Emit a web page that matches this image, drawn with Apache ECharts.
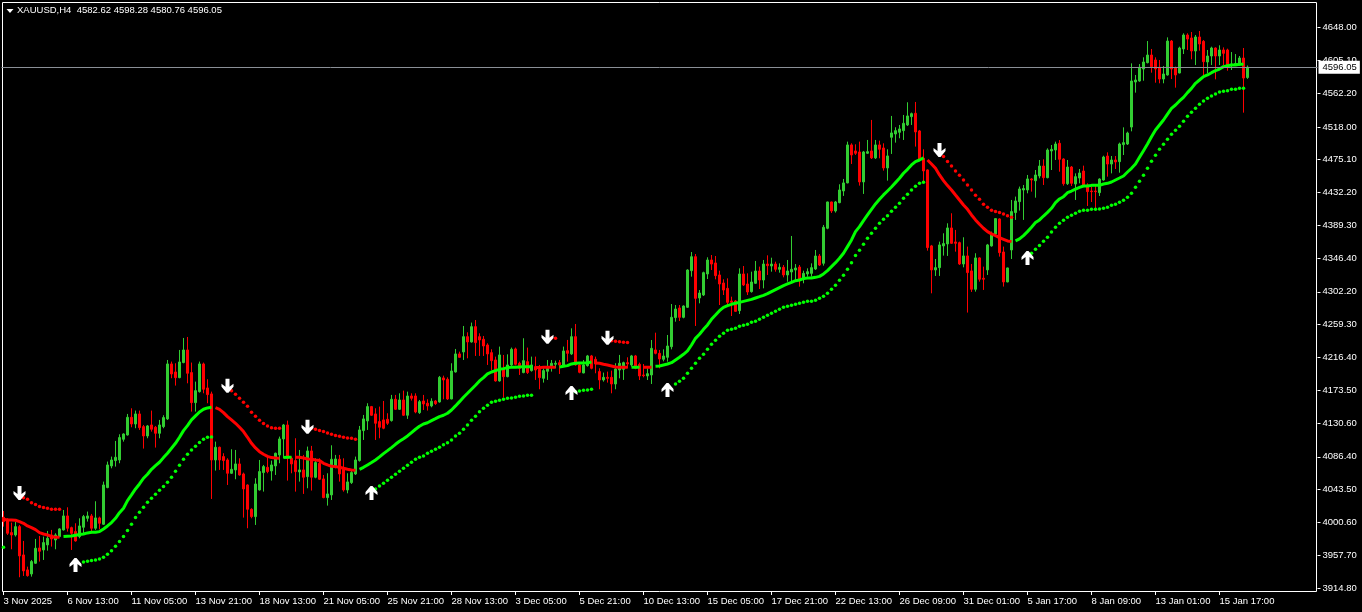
<!DOCTYPE html>
<html>
<head>
<meta charset="utf-8">
<style>html,body{margin:0;padding:0;background:#000}#c{width:1362px;height:612px}</style>
<script src="https://cdn.jsdelivr.net/npm/echarts@6/dist/echarts.min.js"></script>
</head>
<body>
<div id="c"></div>
<script>
const headerText = 'XAUUSD,H4  4582.62 4598.28 4580.76 4596.05';
const lastPrice = 4596.05;
const tickLabels = ['3 Nov 2025','6 Nov 13:00','11 Nov 05:00','13 Nov 21:00','18 Nov 13:00','21 Nov 05:00','25 Nov 21:00','28 Nov 13:00','3 Dec 05:00','5 Dec 21:00','10 Dec 13:00','15 Dec 05:00','17 Dec 21:00','22 Dec 13:00','26 Dec 09:00','31 Dec 01:00','5 Jan 17:00','8 Jan 09:00','13 Jan 01:00','15 Jan 17:00'];
const priceTicks = [4648.00,4605.10,4562.20,4518.00,4475.10,4432.20,4389.30,4346.40,4302.20,4259.30,4216.40,4173.50,4130.60,4086.40,4043.50,4000.60,3957.70,3914.80];

// [open, close, low, high]
const candlesA = [
[4007.3,4001.7,3995.1,4015.6],[4004.7,3986.4,3984.2,4006],[3987.3,3984.2,3965.5,4000.4],[3984.2,3995.1,3982.1,4001.2],[3995.1,3956.8,3928.9,3997.3],
[3958.1,3937.2,3930.6,3976.4],[3938.5,3931,3929.7,3942.8],[3933.2,3949.4,3929.7,3951.5],[3947.2,3966.8,3946.3,3979],[3967.2,3962.9,3949.4,3982.9],
[3964.6,3974.2,3951.5,3982.1],[3971.2,3979.9,3963.7,3989.5],[3984.2,3979,3969,3990.8],[3977.7,3984.2,3965.5,3986.4],[3982.1,3992.1,3981.2,3993],
[3990.8,4009.1,3990,4016.9],[4009.1,3993,3988.6,4020.4],[3993.8,3986.4,3964.6,3995.1],[3988.6,3976.4,3975.5,3999.5],[3982.1,3996,3979.9,4006],
[3994.3,4008.2,3984.2,4010.4],[4006,4009.1,4001.7,4014.8],[4009.1,3993,3986.4,4011.7],[3993,4006.5,3990.8,4028.3],[4006.5,3999.5,3991.7,4008.2],
[3998.2,4049.6,3997.3,4054],[4046.2,4075.8,4045.3,4080.2],[4074.5,4082.3,4071.4,4086.7],[4081.5,4085.8,4073.6,4107.2],[4082.3,4111.6,4078,4115.9],
[4109.4,4116.3,4106.3,4117.2],[4115,4138.1,4114.2,4142.5],[4138.1,4129.4,4125.1,4149.9],[4129.4,4142.5,4123.8,4146.9],[4142.5,4124.6,4121.6,4146.9],
[4125.9,4113.7,4097.2,4128.1],[4113.7,4126.8,4110.7,4128.1],[4128.1,4122.5,4119.4,4146.9],[4125.1,4117.2,4098.5,4126.8],[4117.2,4128.1,4110.7,4134.7],
[4125.9,4137.7,4123.8,4140.8],[4136,4207.9,4134.7,4213.1],[4207.9,4194.8,4189.2,4211],[4197.4,4190,4179.6,4208.8],[4190,4210.5,4189.2,4226.2],
[4209.7,4226.2,4208.8,4241.9],[4226.2,4195.7,4182.6,4243.2],[4196.6,4157.3,4145.6,4209.7],[4157.3,4173,4145.6,4184.8],[4171.7,4207.9,4170.4,4211],
[4207.9,4174.8,4169.5,4209.7],[4176.5,4167.8,4156.5,4187.9],[4168.7,4082.3,4031.3,4171.7],[4082.3,4098.9,4068.4,4106.3],[4098.9,4082.3,4069.3,4099.8],
[4086.7,4081.5,4069.3,4091.1],[4082.3,4064.9,4049.6,4084.5],[4064.9,4070.1,4064,4096.3],[4069.3,4077.1,4057.1,4095.4],[4077.1,4062.7,4061.8,4084.5],
[4064,4044.4,4006.9,4065.8],[4049.6,4017.8,3993,4050.5],[4017.8,4008.2,4006,4019.1],[4008.2,4050.9,3997.3,4058.4],[4043.1,4067.1,4042.3,4082.3],
[4065.8,4073.6,4040.9,4075.8],[4072.7,4067.1,4064.9,4086.7],[4068,4075.8,4055.3,4081.5],[4074.5,4091.1,4062.7,4091.9],[4088.9,4109.8,4078,4112.9],
[4109.8,4128.1,4084.5,4129.4],[4128.1,4084.5,4055.3,4133.8],[4084.5,4077.1,4064.9,4086.7],[4081.5,4067.1,4040.9,4110.7],[4066.6,4069.3,4054,4095.4],
[4069.3,4059.7,4037.9,4088.9],[4060.5,4094.1,4045.3,4099.8],[4094.1,4059.7,4042.3,4100.7],[4059.7,4078.9,4058.4,4084.5],[4078,4057.1,4056.2,4084.5],
[4057.5,4033.1,4032.2,4062.7],[4033.1,4037.9,4022.6,4064.9],[4036.6,4083.2,4030,4101.5],[4074.5,4083.6,4071.4,4088.9],[4083.2,4064,4054,4088.9],
[4070.1,4043.1,4040.9,4084.5],[4043.1,4053.6,4038.7,4064.9],[4052.7,4065.8,4050.9,4068],[4064,4082.3,4062.7,4086.7],[4081.5,4121.6,4080.2,4126.8],
[4120.7,4136,4108.5,4141.2],[4133.4,4152.1,4121.6,4156.5],[4152.1,4140.8,4139.9,4153],[4142.5,4130.3,4108.5,4149.9],[4132.5,4125.1,4110.7,4152.1],
[4134.7,4123.8,4122.5,4159.5],[4135.5,4130.3,4128.1,4143.4],[4133.8,4161.7,4132.5,4167.4],[4161.7,4148.6,4147.7,4167.4],[4148.6,4160.8,4147.7,4169.5]
];
const candlesB = [
[4160.8,4140.8,4139.9,4173],[4140.8,4166,4136,4171.7],[4166,4163,4160,4169.5],[4166,4145.1,4143.4,4169.5],[4144.2,4158.6,4142.5,4160.8],
[4159.5,4155.6,4147.7,4167.4],[4156.5,4153,4146.9,4161.7],[4153,4159.1,4151.2,4163],[4159.5,4156,4154.3,4160.8],[4158.2,4190.4,4157.3,4192.2],
[4189.6,4187,4161.7,4192.6],[4187.8,4162.1,4160.8,4190.4],[4162.1,4198.7,4161.7,4208.8],[4197.4,4221,4196.6,4227.5],[4221,4216.6,4216,4224],
[4223.6,4243.6,4213.1,4257.6],[4243.6,4236.7,4215.3,4249.3],[4236.7,4256.7,4235.8,4262],[4256.7,4235.8,4218.4,4265.4],[4243.6,4239.3,4218.4,4248],
[4240.2,4231.4,4218.4,4244.5],[4232.7,4221,4206.6,4234.9],[4222.7,4212.2,4200,4227.1],[4213.1,4185.7,4184.8,4217.5],[4185.7,4219.7,4184.8,4230.6],
[4202.2,4191.3,4163.9,4219.7],[4191.3,4206.6,4190.4,4220.5],[4206.6,4227.1,4205.3,4229.3],[4227.5,4207.5,4206.1,4229.3],[4208.8,4202.2,4193.5,4210.9],
[4196.6,4212.2,4195.7,4241.5],[4210.9,4196.6,4194.8,4229.3],[4199.2,4206.6,4197.9,4217.5],[4204.4,4200,4187,4217.5],[4200.9,4190,4174.8,4206.6],
[4189.1,4199.2,4183.5,4202.2],[4198.3,4202.2,4187,4213.1],[4204.4,4208.8,4197.9,4213.1],[4207.5,4208.8,4202.2,4212.2],[4209.6,4206.6,4194.8,4213.1],
[4205.3,4224.9,4204.4,4230.6],[4225.3,4221.8,4210.9,4239.3],[4221,4243.6,4219.7,4254.5],[4243.6,4206.6,4205.7,4260.2],[4206.6,4197,4195.7,4208.8],
[4196.1,4206.6,4195.7,4213.1],[4205.7,4218.4,4204.4,4219.7],[4218.4,4202.2,4200.9,4219.7],[4214,4207.9,4195.7,4217.5],[4197.9,4187,4174.8,4202.2],
[4187,4190.4,4184.8,4196.6],[4190.4,4189.1,4183.5,4197.9],[4190.4,4181.7,4169.5,4199.2],[4181.7,4201.3,4174.8,4208.8],[4200,4208.8,4189.1,4219.7],
[4200.9,4209.6,4187,4210.9],[4209.6,4207.9,4202.2,4216.6],[4206.6,4218.4,4204.4,4219.7],[4218.4,4202.2,4201,4219.7],[4207.4,4192.2,4186.9,4209.6],
[4193.5,4192.6,4190.4,4207.8],[4192.2,4195.2,4186.9,4202.2],[4193.5,4228.3,4181.7,4239.2],[4226.2,4221.8,4220.5,4248.8],[4221.8,4214.4,4202.2,4226.2],
[4214,4218.3,4211.3,4227],[4216.6,4231.4,4210.9,4245.8],[4230.5,4268.9,4227,4286.3],[4268.5,4279.8,4263.2,4285],[4281.1,4268.9,4264.1,4285],
[4268.9,4283.7,4267.6,4284.6],[4282,4330.8,4281.1,4331.7],[4329.9,4348.2,4322.1,4354.3],[4348.2,4293.7,4257.6,4351.7],[4294.2,4300.7,4287.2,4304.6],
[4298.1,4327.3,4296.8,4328.6],[4325.6,4343.9,4319,4347.4],[4343.9,4338.6,4330.8,4350.4],[4340,4323.4,4318.6,4349.1],[4324.3,4312.5,4285,4329.9],
[4313.8,4304.6,4298.1,4318.6],[4306.8,4288.5,4285,4319.9],[4290.3,4288.5,4270.6,4295.9],[4290.3,4276.7,4276.3,4291.6],[4277.6,4325.6,4273.2,4333],
[4325.6,4311.2,4309.9,4336],[4312.5,4302,4298.1,4326.4],[4302.5,4315.1,4301.2,4328.6],[4313.4,4329.5,4312.5,4342.6],[4329.5,4317.7,4305.9,4335.2],
[4317.7,4338.6,4306.8,4343.9],[4338.6,4336.5,4324.3,4350],[4336,4338.6,4328.6,4346.9],[4338.6,4331.7,4328.6,4341.7],[4331.7,4334.3,4327.3,4339.5],
[4334.3,4324.3,4321.2,4337.3],[4324.3,4329.5,4315.5,4343.9],[4328.2,4331.7,4315.5,4375.3],[4330.8,4333.4,4317.7,4338.6],[4334.7,4318.6,4309,4337.3]
];
const candlesC = [
[4318.6,4326.4,4313.4,4329.9],[4325.6,4328.6,4322.1,4333],[4326.4,4333.9,4322.1,4339.5],[4332.1,4349.1,4330.8,4357],[4349.1,4337.3,4336,4351.7],
[4339.6,4386.7,4336.5,4389.7],[4385.4,4419.8,4384.1,4420.2],[4419.8,4408,4405.4,4420.2],[4408,4419.8,4405.9,4421.1],[4418.9,4435.5,4418.1,4442.9],
[4434.2,4444.7,4427.7,4449.9],[4444.7,4494.4,4444.2,4498.7],[4494.4,4481.3,4469.5,4496.5],[4486.5,4483.5,4481.3,4495.2],[4485.2,4446,4441.2,4498.7],
[4446,4485.2,4430.3,4486.5],[4483.5,4485.6,4482.6,4500.9],[4486.5,4477.4,4476,4527.1],[4477.4,4494.4,4476,4500.9],[4494.4,4488.7,4476.9,4500],
[4490.4,4464.3,4460.8,4496.5],[4464.3,4480,4447.7,4488.7],[4504.4,4510.1,4482.6,4532.3],[4508.7,4513.1,4497.4,4517.5],[4510.9,4515.3,4503.1,4520.5],
[4513.1,4522.7,4500.9,4533.6],[4520.5,4532.3,4519.2,4550.2],[4531.4,4535.3,4520.5,4536.7],[4535.8,4511.4,4492.2,4550.6],[4512.7,4474.7,4473.9,4514],
[4476.9,4460.4,4446.4,4488.7],[4461.7,4360.1,4356.1,4462.5],[4362.3,4330.9,4300.3,4363.6],[4330.9,4333.9,4323,4345.2],[4333.9,4363.6,4323,4367.9],
[4362.3,4365.3,4349.6,4378.8],[4364.9,4385.8,4349.2,4391.9],[4385.8,4365.7,4364.9,4405],[4367.5,4365.7,4354.8,4383.2],[4366.6,4338.7,4337.4,4367.9],
[4338.7,4349.2,4334.3,4373.6],[4349.2,4327.4,4275.1,4361.4],[4329.6,4305.6,4302.1,4338.7],[4305.6,4346.6,4302.5,4352.7],[4346.6,4318.7,4315.6,4347.4],
[4320,4318.7,4304.7,4335.2],[4330.9,4363.6,4324.3,4364.9],[4362.3,4378.8,4361.4,4381],[4377.9,4398,4376.6,4398.4],[4397.6,4353.5,4348.3,4398.4],
[4354.4,4315.2,4309.1,4361.4],[4315.2,4333.5,4314.7,4333.9],[4357,4407.2,4345.2,4422.4],[4405.9,4421.1,4396.3,4426.8],[4420.2,4436.8,4408.5,4439.9],
[4435.5,4437.3,4396.3,4442],[4435.5,4449.9,4431.1,4455.1],[4449.9,4448.6,4433.3,4450.8],[4447.6,4455.1,4425.4,4461.6],[4453.8,4466.8,4450.7,4474.7],
[4466.8,4451.6,4442,4475.6],[4451.6,4487.8,4450.7,4489.9],[4486.5,4488.6,4461.6,4494.3],[4487.8,4495.6,4474.7,4498.7],[4496.5,4475.6,4459.4,4500.8],
[4476,4443.7,4441.1,4476.9],[4443.7,4465.5,4442,4474.7],[4465.5,4444.2,4440.7,4466.8],[4443.3,4452.9,4422.4,4457.2],[4451.1,4457.7,4444.2,4462.9],
[4460.3,4441.1,4439.8,4467.3],[4442,4433.3,4414.5,4444.2],[4434.1,4433.3,4419.7,4439.8],[4434.1,4433.3,4411.5,4442],[4432,4449.8,4427.6,4450.7],
[4448.5,4478.6,4447.6,4480.3],[4479.9,4469.4,4452.9,4484.7],[4469.4,4474.7,4457.2,4479.9],[4474.7,4472.1,4462.9,4479.9],[4472.5,4495.6,4458.1,4497.4],
[4494.8,4497.4,4481.2,4517.4],[4495.6,4510,4494.3,4511.7],[4517.8,4578,4512.2,4601.1],[4576.7,4579.3,4562.8,4585.9],[4578,4595.9,4577.1,4600.2],
[4593.7,4602.9,4578.4,4609],[4602,4612,4601.1,4630.3],[4612,4596.8,4588.9,4619.9],[4605.5,4593.7,4575.8,4609],[4595.9,4580.6,4575,4605.5],
[4580.6,4587.2,4575,4597.6],[4585.9,4630.3,4585,4635.1],[4630.3,4593.7,4580.6,4631.6],[4595.5,4585.9,4569.3,4596.8],[4588.5,4621.2,4588,4622.9],
[4619.9,4638.2,4613.3,4640.4],[4638.2,4632.9,4618.6,4640.4],[4634.3,4617.3,4606.4,4642.1],[4617.3,4635.6,4598.9,4638.2],[4635.6,4626.4,4617.7,4643.4],
[4629.9,4603.3,4584.6,4631.6],[4602.9,4610.7,4588,4618.6],[4610.7,4621.2,4598.9,4622.9],[4621.2,4610.7,4580.2,4622],[4610.7,4618.6,4598.9,4624.7],
[4618.6,4614.2,4598.9,4622],[4618.6,4598.9,4591.5,4620.3],[4598.9,4600.2,4592.4,4615.9],[4599,4601,4598.5,4613.3],[4598.9,4608.1,4598.1,4610.7],
[4608.1,4581.9,4536.6,4621.2],[4582.62,4596.05,4580.76,4598.28]
];

// Each entry: [index of first bar, values]
const trendDown = [
[0,[4004.7,4003.9,4003.9,4003.4,4001.7,3999.5,3996,3993.8,3991.2,3987.3,3985.5,3984.2,3982.1,3981.2,3981.2]],
[53,[4150.8,4148.6,4144.3,4139,4134.7,4130.3,4125.1,4119.4,4112,4104.1,4098,4093.2,4089.8,4087.1,4085.4,4084.9,4084.5]],
[73,[4085.8,4085.8,4084.9,4083.6,4083.2,4082.3,4081.5,4078,4075.8,4074,4073.6,4072.7,4071.4,4070.1,4069.3,4068.8]],
[133,[4203.1,4203.1,4203.5,4203.5,4203.5,4203.5]],
[148,[4209.2,4208.8,4207.5,4206.6,4205.3,4204,4203.5,4203.5,4203.5]],
[160,[4203.5,4203.5,4203.5]],
[231,[4474.7,4469.5,4463.8,4455.1,4447.7,4441.2,4435.5,4428.9,4422.4,4415.9,4410.2,4402.8,4396.3,4390.6,4385.4,4381,4378,4375.8,4373.2,4371,4368.8,4367.9]]
];
const trendUp = [
[15,[3982.1,3982.5,3982.9,3983.8,3984.7,3985.5,3986.9,3987.7,3987.7,3988.6,3992.1,3996,4000.4,4006,4013.4,4019.1,4029.2,4036.6,4044.4,4050.9,4058.4,4063.6,4070.1,4074.9,4079.3,4085.4,4091.1,4097.6,4104.1,4112,4120.7,4127.2,4134.7,4139.9,4145.1,4148.6,4150.4,4151.2]],
[70,[4085.4,4085.8,4085.8]],
[89,[4070.1,4072.7,4075.8,4078.9,4082.3,4086.3,4090.6,4094.5,4098.5,4102.8,4106.8,4110.2,4113.7,4118.1,4122.5,4126.4,4129.4,4131,4133.7,4136.3,4139,4140.8,4143.4,4147.7,4153,4158.6,4164.3,4169.5,4174.8,4180,4185.7,4190,4194.8,4197.4,4199.2,4200.9,4201.8,4203.1,4203.5,4203.5,4204,4204.4,4204.4,4204.4]],
[139,[4204,4204.8,4205.7,4207.9,4208.8,4209.2,4209.2,4209.6,4210.5]],
[157,[4203.5,4203.5,4203.5]],
[163,[4204.8,4205.2,4206.5,4207.8,4209.6,4213.1,4216.6,4220.5,4224.9,4232.7,4241.4,4246.7,4253.2,4258.9,4266.3,4271.9,4277.6,4282,4284.1,4285.9,4287.2,4288.5,4289.8,4291.1,4292.4,4294.2,4295.9,4297.7,4299.8,4302.5,4305.1,4307.7,4310.3,4312.5,4314.7,4316.8,4317.7,4319.5,4320.3,4320.3,4321.2,4322.5,4325.6,4330,4335.2,4340.4,4346.1,4352.7,4361.4,4370.1,4381,4387.5,4395.4,4402.8,4410.2,4417.2,4423.3,4429,4434.2,4439.4,4445.1,4450.8,4457.3,4462.5,4468.2,4472.6,4474.7,4477.4]],
[253,[4368.8,4371.4,4375.8,4381,4386.7,4392.8,4396.3,4401.4,4406.2,4411.5,4418.9,4423.7,4426.7,4431.9,4434.1,4436.7,4438.9,4440.7,4440.7,4441.5,4441.5,4441.5,4443.3,4444.2,4445.9,4448.5,4451.1,4453.8,4459,4463.8,4469.4,4478.2,4486.9,4495.6,4505.2,4513.9,4520.5,4527,4534.8,4542.3,4546.6,4551.9,4556.6,4562.8,4568.4,4575,4579.3,4583.7,4585.9,4588.9,4591.5,4593.7,4596.8,4598.1,4598.9,4598.9,4599.8,4599.8]]
];
const stopUpper = [
[5,[4033,4030.9,4026.5,4023.9,4021.3,4020,4019.1,4017.8,4017.8,4017.8]],
[57,[4173,4168.2,4163,4157.8,4152.5,4144.7,4139.5,4134.2,4129.9,4126.8,4124.6,4123.8,4123.8]],
[77,[4123.8,4122.5,4120.7,4119.4,4117.7,4115.9,4114.2,4113.3,4112,4111.1,4110.7,4109.4]],
[137,[4242,4241.5]],
[152,[4238.4,4237.5,4237.1,4236.2,4235.8]],
[235,[4479.1,4472.6,4466.9,4460.4,4454.7,4448.6,4442,4435.5,4428.5,4423.3,4416.7,4412.8,4408.9,4407.2,4405.9,4404.1,4401.9,4399.7]]
];
const stopLower = [
[0,[3968.1]],
[20,[3948.9,3949.8,3950.7,3951.5,3952.8,3955,3958.9,3963.7,3969.4,3975.5,3982.1,3989.9,3998.2,4006.9,4013.9,4020.4,4027,4032.2,4037.4,4042.7,4047.5,4053.1,4059.7,4067.5,4075.4,4083.2,4089.8,4095.4,4100.2,4105,4109.4,4112,4112.4]],
[93,[4044.4,4048.3,4051.8,4055.7,4059.7,4063.6,4067.5,4071.4,4075.4,4079.3,4083.2,4085.8,4087.6,4091.1,4093.7,4096.3,4098.9,4102.3,4104.9,4108.5,4113.7,4117.2,4122.5,4128.1,4134.2,4139.4,4145.5,4149.9,4153.8,4157.7,4159.1,4160.4,4161.7,4163,4163.4,4164.3,4165.6,4166,4166.9,4166.9]],
[143,[4171.7,4172.6,4173.4,4173.9,4174.8]],
[168,[4181.7,4185.2,4189.1,4195.6,4202.2,4208.7,4215.3,4220.5,4227,4233.6,4238.8,4244,4248,4251.9,4253.2,4254.5,4257.1,4258.4,4259.7,4262.3,4263.7,4266.3,4268.9,4271.5,4274.1,4276.7,4279.4,4282,4283.3,4284.6,4285.9,4287.2,4288.5,4289.8,4289.8,4291.1,4293.7,4296.4,4300.3,4305.5,4310.7,4317.3,4323.8,4331.7,4340.4,4349.6,4356.6,4364.4,4372.3,4378.8,4385.4,4391.9,4397.1,4401.9,4407.6,4412.8,4418,4424.6,4429.8,4435.5,4440.3,4444.2,4445.5]],
[257,[4352.6,4357.8,4363,4368.3,4373.5,4380.5,4386.6,4391.8,4395.8,4399.7,4402.3,4404.9,4407.5,4408.8,4408.8,4410.2,4410.2,4410.6,4411.5,4412.8,4415.4,4416.7,4419.3,4421.9,4425.8,4431.1,4438.9,4446.8,4454.6,4463.8,4472.9,4480.8,4488.6,4495.2,4501.7,4508.3,4513.5,4518.7,4525.3,4531.8,4537,4542.3,4547.5,4551.9,4555.3,4558.4,4561,4563.6,4564.5,4565.4,4567.1,4567.1,4568.4,4568.4]]
];
const sellArrows = [[4,4039.2],[56,4179.5],[76,4125.9],[136,4243.6],[151,4242.3],[234,4487.8]];
const buyArrows = [[18,3945],[92,4039.2],[142,4170],[166,4173.9],[256,4346.5]];

const candles = candlesA.concat(candlesB, candlesC);
const barSlots = 329;
const categories = Array.from({length: barSlots}, (_, i) => i % 16 === 0 ? (tickLabels[i / 16] || '') : '');
function fromSegments(segments) {
  const out = new Array(candles.length).fill(null);
  segments.forEach(([start, values]) => values.forEach((v, k) => { out[start + k] = v; }));
  return out;
}
const isTick = i => i % 16 === 0 && i / 16 < tickLabels.length;
const upPath = 'path://M5 0 L7 0 L12 6 L12 9 L8 6 L8 14 L4 14 L4 6 L0 9 L0 6 Z';
const downPath = 'path://M4 0 L8 0 L8 8 L12 5 L12 8 L7 14 L5 14 L0 8 L0 5 L4 8 Z';
const FONT = '"Liberation Sans", Arial, sans-serif';

const chart = echarts.init(document.getElementById('c'), null, {renderer: 'canvas'});
chart.setOption({
  animation: false,
  backgroundColor: '#000',
  title: {text: headerText, left: 17, top: 5, padding: 0, textStyle: {color: '#fff', fontSize: 9.5, fontWeight: 'normal', fontFamily: FONT}},
  graphic: [{type: 'polygon', silent: true, shape: {points: [[6.5, 9], [13.5, 9], [10, 13]]}, style: {fill: '#fff'}}],
  grid: [
    {left: 1.5, top: 2.5, width: 1316, height: 589.5},
    {left: 2.5, top: 2.5, width: 1314, height: 589, show: true, borderColor: '#fff', borderWidth: 1, backgroundColor: 'transparent'}
  ],
  xAxis: [
    {type: 'category', gridIndex: 0, data: categories, boundaryGap: true,
     axisLine: {show: false},
     axisTick: {show: true, alignWithLabel: true, length: 3, interval: (i) => isTick(i), lineStyle: {color: '#fff'}},
     axisLabel: {show: true, color: '#fff', fontSize: 9.5, fontFamily: FONT, align: 'left', margin: 4, interval: (i) => isTick(i), hideOverlap: false},
     splitLine: {show: false}},
    {type: 'value', gridIndex: 1, show: false}
  ],
  yAxis: [
    {type: 'value', gridIndex: 0, position: 'right', min: 3909.6, max: 4680.7, scale: true,
     axisLine: {show: false},
     axisTick: {show: true, length: 3, customValues: priceTicks, lineStyle: {color: '#fff'}},
     axisLabel: {show: true, color: '#fff', fontSize: 9.5, fontFamily: FONT, margin: 5, padding: [2, 0, 0, 0], customValues: priceTicks, formatter: v => v.toFixed(2)},
     splitLine: {show: false}},
    {type: 'value', gridIndex: 1, show: false}
  ],
  series: [
    {type: 'candlestick', name: 'XAUUSD', data: candles, barWidth: 3, silent: true, clip: false,
     itemStyle: {color: '#32CD32', color0: '#FF0000', borderColor: '#32CD32', borderColor0: '#FF0000', borderWidth: 1},
     markLine: {silent: true, symbol: 'none', z: 20, animation: false,
       lineStyle: {color: '#8a8f96', width: 1, type: 'solid'},
       label: {show: true, position: 'end', distance: 1, formatter: lastPrice.toFixed(2), color: '#000', backgroundColor: '#fff', fontSize: 9.5, fontFamily: FONT, padding: [2, 3, 1, 4]},
       data: [{yAxis: lastPrice}]}},
    {type: 'line', name: 'Trend down', data: fromSegments(trendDown), showSymbol: false, connectNulls: false, silent: true, z: 5, lineStyle: {color: '#FF0000', width: 3}},
    {type: 'line', name: 'Trend up', data: fromSegments(trendUp), showSymbol: false, connectNulls: false, silent: true, z: 5, lineStyle: {color: '#00FF00', width: 3}},
    {type: 'scatter', name: 'Upper stop', data: fromSegments(stopUpper), symbolSize: 3.5, silent: true, z: 6, itemStyle: {color: '#FF0000', opacity: 1}},
    {type: 'scatter', name: 'Lower stop', data: fromSegments(stopLower), symbolSize: 3.5, silent: true, z: 6, itemStyle: {color: '#00FF00', opacity: 1}},
    {type: 'scatter', name: 'Sell', data: sellArrows, symbol: downPath, symbolSize: [12, 14], symbolKeepAspect: false, silent: true, z: 7, itemStyle: {color: '#fff', opacity: 1}},
    {type: 'scatter', name: 'Buy', data: buyArrows, symbol: upPath, symbolSize: [12, 14], symbolKeepAspect: false, silent: true, z: 7, itemStyle: {color: '#fff', opacity: 1}}
  ]
});
</script>
</body>
</html>
